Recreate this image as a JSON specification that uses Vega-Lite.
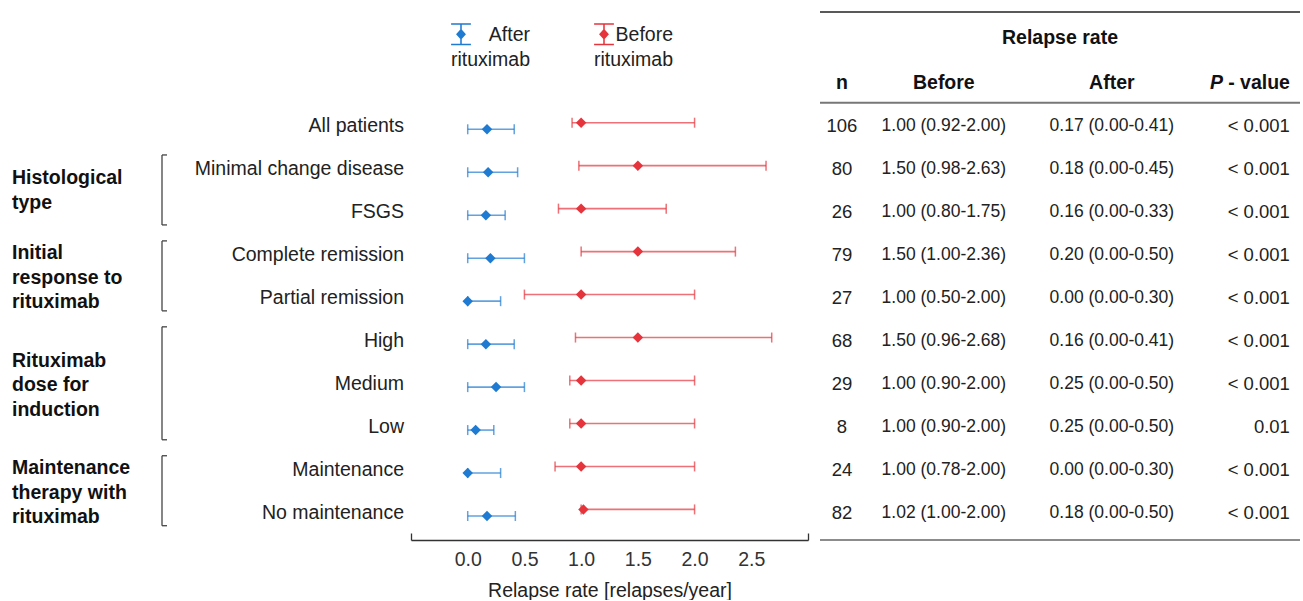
{
  "$schema": "https://vega.github.io/schema/vega-lite/v6.json",
  "padding": {"left": 12, "top": 0, "right": 0, "bottom": 0},
  "spacing": 12,
  "bounds": "flush",
  "background": "white",
  "config": {
    "view": {"stroke": null},
    "font": "Liberation Sans",
    "text": {"font": "Liberation Sans", "color": "#222"},
    "axis": {"labelFont": "Liberation Sans", "titleFont": "Liberation Sans"},
    "legend": {
      "orient": "none", "legendX": 438, "legendY": 23,
      "direction": "horizontal", "columns": 2, "columnPadding": 63,
      "symbolType": "M-0.9,-1H0.9V-0.86H-0.9Z M-0.07,-1H0.07V1H-0.07Z M-0.9,0.86H0.9V1H-0.9Z M0,-0.5L0.45,0L0,0.5L-0.45,0Z",
      "symbolSize": 484, "symbolOpacity": 1, "symbolStrokeWidth": 0,
      "labelFont": "Liberation Sans", "labelFontSize": 19.5, "labelColor": "#222",
      "labelAlign": "right", "labelBaseline": "middle", "labelOffset": 58, "labelLimit": 200,
      "padding": 0, "offset": 0, "titlePadding": 0
    }
  },
  "datasets": {
    "rows": [
      {"idx": 0, "label": "All patients", "group": null, "n": 106, "b": 1.00, "blo": 0.92, "bhi": 2.00, "a": 0.17, "alo": 0.00, "ahi": 0.41, "before": "1.00 (0.92-2.00)", "after": "0.17 (0.00-0.41)", "p": "< 0.001"},
      {"idx": 1, "label": "Minimal change disease", "group": "Histological\ntype", "n": 80, "b": 1.50, "blo": 0.98, "bhi": 2.63, "a": 0.18, "alo": 0.00, "ahi": 0.44, "before": "1.50 (0.98-2.63)", "after": "0.18 (0.00-0.45)", "p": "< 0.001"},
      {"idx": 2, "label": "FSGS", "group": "Histological\ntype", "n": 26, "b": 1.00, "blo": 0.80, "bhi": 1.75, "a": 0.16, "alo": 0.00, "ahi": 0.33, "before": "1.00 (0.80-1.75)", "after": "0.16 (0.00-0.33)", "p": "< 0.001"},
      {"idx": 3, "label": "Complete remission", "group": "Initial\nresponse to\nrituximab", "n": 79, "b": 1.50, "blo": 1.00, "bhi": 2.36, "a": 0.20, "alo": 0.00, "ahi": 0.50, "before": "1.50 (1.00-2.36)", "after": "0.20 (0.00-0.50)", "p": "< 0.001"},
      {"idx": 4, "label": "Partial remission", "group": "Initial\nresponse to\nrituximab", "n": 27, "b": 1.00, "blo": 0.50, "bhi": 2.00, "a": 0.00, "alo": 0.00, "ahi": 0.29, "before": "1.00 (0.50-2.00)", "after": "0.00 (0.00-0.30)", "p": "< 0.001"},
      {"idx": 5, "label": "High", "group": "Rituximab\ndose for\ninduction", "n": 68, "b": 1.50, "blo": 0.95, "bhi": 2.68, "a": 0.16, "alo": 0.00, "ahi": 0.41, "before": "1.50 (0.96-2.68)", "after": "0.16 (0.00-0.41)", "p": "< 0.001"},
      {"idx": 6, "label": "Medium", "group": "Rituximab\ndose for\ninduction", "n": 29, "b": 1.00, "blo": 0.90, "bhi": 2.00, "a": 0.25, "alo": 0.00, "ahi": 0.50, "before": "1.00 (0.90-2.00)", "after": "0.25 (0.00-0.50)", "p": "< 0.001"},
      {"idx": 7, "label": "Low", "group": "Rituximab\ndose for\ninduction", "n": 8, "b": 1.00, "blo": 0.90, "bhi": 2.00, "a": 0.07, "alo": 0.00, "ahi": 0.23, "before": "1.00 (0.90-2.00)", "after": "0.25 (0.00-0.50)", "p": "0.01"},
      {"idx": 8, "label": "Maintenance", "group": "Maintenance\ntherapy with\nrituximab", "n": 24, "b": 1.00, "blo": 0.77, "bhi": 2.00, "a": 0.00, "alo": 0.00, "ahi": 0.29, "before": "1.00 (0.78-2.00)", "after": "0.00 (0.00-0.30)", "p": "< 0.001"},
      {"idx": 9, "label": "No maintenance", "group": "Maintenance\ntherapy with\nrituximab", "n": 82, "b": 1.02, "blo": 1.00, "bhi": 2.00, "a": 0.17, "alo": 0.00, "ahi": 0.42, "before": "1.02 (1.00-2.00)", "after": "0.18 (0.00-0.50)", "p": "< 0.001"}
    ]
  },
  "hconcat": [
    {
      "width": 387,
      "height": 540,
      "data": {"name": "rows"},
      "layer": [
        {
          "mark": {"type": "text", "align": "right", "baseline": "middle", "x": "width", "dx": 5, "fontSize": 19.5, "color": "#222"},
          "encoding": {
            "y": {"field": "idx", "type": "quantitative", "scale": {"domain": [-2.932, 9.635], "reverse": true, "nice": false, "zero": false}, "axis": null},
            "text": {"field": "label"}
          }
        },
        {
          "transform": [
            {"filter": "datum.group != null"},
            {"aggregate": [
              {"op": "min", "field": "idx", "as": "y0"},
              {"op": "max", "field": "idx", "as": "y1"},
              {"op": "mean", "field": "idx", "as": "ym"}
            ], "groupby": ["group"]}
          ],
          "layer": [
            {
              "transform": [{"filter": "length(split(datum.group, '\\n')) == 2"}],
              "mark": {"type": "text", "align": "left", "baseline": "middle", "x": 0, "yOffset": -12, "fontSize": 19.5, "fontWeight": "bold", "lineBreak": "\n", "lineHeight": 24.5, "color": "#111"},
              "encoding": {"y": {"field": "ym", "type": "quantitative"}, "text": {"field": "group"}}
            },
            {
              "transform": [{"filter": "length(split(datum.group, '\\n')) == 3"}],
              "mark": {"type": "text", "align": "left", "baseline": "middle", "x": 0, "yOffset": -23, "fontSize": 19.5, "fontWeight": "bold", "lineBreak": "\n", "lineHeight": 24.5, "color": "#111"},
              "encoding": {"y": {"field": "ym", "type": "quantitative"}, "text": {"field": "group"}}
            },
            {
              "mark": {"type": "rule", "x": 150, "yOffset": -14, "y2Offset": 13, "color": "#444", "strokeWidth": 1.3},
              "encoding": {"y": {"field": "y0", "type": "quantitative"}, "y2": {"field": "y1"}}
            },
            {
              "mark": {"type": "rule", "x": 150, "x2": 155, "yOffset": -14, "color": "#444", "strokeWidth": 1.3},
              "encoding": {"y": {"field": "y0", "type": "quantitative"}}
            },
            {
              "mark": {"type": "rule", "x": 150, "x2": 155, "yOffset": 13, "color": "#444", "strokeWidth": 1.3},
              "encoding": {"y": {"field": "y1", "type": "quantitative"}}
            }
          ]
        }
      ]
    },
    {
      "width": 397,
      "height": 540,
      "data": {"name": "rows"},
      "layer": [
        {
          "mark": {"type": "rule", "yOffset": 3.3, "strokeWidth": 1.6, "opacity": 0.7},
          "encoding": {
            "y": {"field": "idx", "type": "quantitative", "scale": {"domain": [-2.932, 9.635], "reverse": true, "nice": false, "zero": false}, "axis": null},
            "x": {"field": "alo", "type": "quantitative", "scale": {"domain": [-0.5, 3.0], "nice": false, "zero": false},
              "axis": {
                "orient": "bottom",
                "values": [-0.5, 0, 0.5, 1, 1.5, 2, 2.5, 3],
                "labelExpr": "datum.value < -0.4 || datum.value > 2.9 ? '' : format(datum.value, '.1f')",
                "grid": false,
                "domainColor": "#333",
                "domainWidth": 1.3,
                "tickColor": "#333",
                "tickWidth": 1.3,
                "tickSize": -7,
                "tickOpacity": {"condition": {"test": "datum.value < -0.4 || datum.value > 2.9", "value": 1}, "value": 0},
                "labelFontSize": 19.5,
                "labelColor": "#333",
                "labelPadding": 17,
                "labelOverlap": false,
                "labelFlush": false,
                "title": "Relapse rate [relapses/year]",
                "titleFontSize": 19.5,
                "titleFontWeight": "normal",
                "titleColor": "#222",
                "titlePadding": 13
              }
            },
            "x2": {"field": "ahi"},
            "color": {"datum": "After rituximab", "type": "nominal", "scale": {"domain": ["After rituximab", "Before rituximab"], "range": ["#1f7ad1", "#e5343c"]},
              "legend": {"title": null, "labelExpr": "split(datum.label, ' ')", "encode": {"labels": {"update": {"dy": {"value": 1}, "lineHeight": {"value": 25}}}}}}
          }
        },
        {
          "mark": {"type": "tick", "orient": "vertical", "yOffset": 3.3, "size": 10, "thickness": 1.5, "opacity": 0.7},
          "encoding": {"y": {"field": "idx", "type": "quantitative"}, "x": {"field": "alo", "type": "quantitative"}, "color": {"datum": "After rituximab", "type": "nominal"}}
        },
        {
          "mark": {"type": "tick", "orient": "vertical", "yOffset": 3.3, "size": 10, "thickness": 1.5, "opacity": 0.7},
          "encoding": {"y": {"field": "idx", "type": "quantitative"}, "x": {"field": "ahi", "type": "quantitative"}, "color": {"datum": "After rituximab", "type": "nominal"}}
        },
        {
          "mark": {"type": "rule", "yOffset": -3.3, "strokeWidth": 1.6, "opacity": 0.7},
          "encoding": {"y": {"field": "idx", "type": "quantitative"}, "x": {"field": "blo", "type": "quantitative"}, "x2": {"field": "bhi"}, "color": {"datum": "Before rituximab", "type": "nominal"}}
        },
        {
          "mark": {"type": "tick", "orient": "vertical", "yOffset": -3.3, "size": 10, "thickness": 1.5, "opacity": 0.7},
          "encoding": {"y": {"field": "idx", "type": "quantitative"}, "x": {"field": "blo", "type": "quantitative"}, "color": {"datum": "Before rituximab", "type": "nominal"}}
        },
        {
          "mark": {"type": "tick", "orient": "vertical", "yOffset": -3.3, "size": 10, "thickness": 1.5, "opacity": 0.7},
          "encoding": {"y": {"field": "idx", "type": "quantitative"}, "x": {"field": "bhi", "type": "quantitative"}, "color": {"datum": "Before rituximab", "type": "nominal"}}
        },
        {
          "mark": {"type": "point", "shape": "diamond", "filled": true, "size": 110, "opacity": 1, "yOffset": 3.3},
          "encoding": {"y": {"field": "idx", "type": "quantitative"}, "x": {"field": "a", "type": "quantitative"}, "color": {"datum": "After rituximab", "type": "nominal"}}
        },
        {
          "mark": {"type": "point", "shape": "diamond", "filled": true, "size": 110, "opacity": 1, "yOffset": -3.3},
          "encoding": {"y": {"field": "idx", "type": "quantitative"}, "x": {"field": "b", "type": "quantitative"}, "color": {"datum": "Before rituximab", "type": "nominal"}}
        }
      ]
    },
    {
      "width": 480,
      "height": 540,
      "layer": [
        {
          "data": {"name": "rows"},
          "mark": {"type": "text", "align": "center", "baseline": "middle", "fontSize": 18.5, "color": "#222"},
          "encoding": {
            "y": {"field": "idx", "type": "quantitative", "scale": {"domain": [-2.932, 9.635], "reverse": true, "nice": false, "zero": false}, "axis": null},
            "x": {"datum": 4.58, "type": "quantitative", "scale": {"domain": [0, 100], "nice": false, "zero": false}, "axis": null},
            "text": {"field": "n"}
          }
        },
        {
          "data": {"name": "rows"},
          "mark": {"type": "text", "align": "center", "baseline": "middle", "fontSize": 17.5, "color": "#222"},
          "encoding": {"y": {"field": "idx", "type": "quantitative"}, "x": {"datum": 25.8, "type": "quantitative"}, "text": {"field": "before"}}
        },
        {
          "data": {"name": "rows"},
          "mark": {"type": "text", "align": "center", "baseline": "middle", "fontSize": 17.5, "color": "#222"},
          "encoding": {"y": {"field": "idx", "type": "quantitative"}, "x": {"datum": 60.8, "type": "quantitative"}, "text": {"field": "after"}}
        },
        {
          "data": {"name": "rows"},
          "mark": {"type": "text", "align": "right", "baseline": "middle", "fontSize": 18.5, "color": "#222"},
          "encoding": {"y": {"field": "idx", "type": "quantitative"}, "x": {"datum": 97.9, "type": "quantitative"}, "text": {"field": "p"}}
        },
        {
          "data": {"values": [{"h": "Relapse rate"}]},
          "mark": {"type": "text", "align": "center", "baseline": "middle", "fontSize": 19.5, "fontWeight": "bold", "color": "#111"},
          "encoding": {"y": {"datum": -2.041, "type": "quantitative"}, "text": {"field": "h"}}
        },
        {
          "data": {"values": [{"h": "n", "pos": 4.58}, {"h": "Before", "pos": 25.8}, {"h": "After", "pos": 60.8}]},
          "mark": {"type": "text", "align": "center", "baseline": "middle", "fontSize": 19.5, "fontWeight": "bold", "color": "#111"},
          "encoding": {"x": {"field": "pos", "type": "quantitative"}, "y": {"datum": -1.012, "type": "quantitative"}, "text": {"field": "h"}}
        },
        {
          "data": {"values": [{"h": "- value"}]},
          "mark": {"type": "text", "align": "right", "baseline": "middle", "fontSize": 19.5, "fontWeight": "bold", "color": "#111"},
          "encoding": {"x": {"datum": 97.9, "type": "quantitative"}, "y": {"datum": -1.012, "type": "quantitative"}, "text": {"field": "h"}}
        },
        {
          "data": {"values": [{"h": "P"}]},
          "mark": {"type": "text", "align": "right", "baseline": "middle", "fontSize": 19.5, "fontWeight": "bold", "fontStyle": "italic", "dx": -67, "color": "#111"},
          "encoding": {"x": {"datum": 97.9, "type": "quantitative"}, "y": {"datum": -1.012, "type": "quantitative"}, "text": {"field": "h"}}
        },
        {
          "data": {"values": [{"line": "top"}]},
          "mark": {"type": "rule", "color": "#222", "strokeWidth": 1.5},
          "encoding": {"y": {"datum": -2.653, "type": "quantitative"}}
        },
        {
          "data": {"values": [{"line": "header"}]},
          "mark": {"type": "rule", "color": "#777", "strokeWidth": 2},
          "encoding": {"y": {"datum": -0.542, "type": "quantitative"}}
        },
        {
          "data": {"values": [{"line": "bottom"}]},
          "mark": {"type": "rule", "color": "#666", "strokeWidth": 1.5},
          "encoding": {"y": {"datum": 9.635, "type": "quantitative"}}
        }
      ]
    }
  ]
}
